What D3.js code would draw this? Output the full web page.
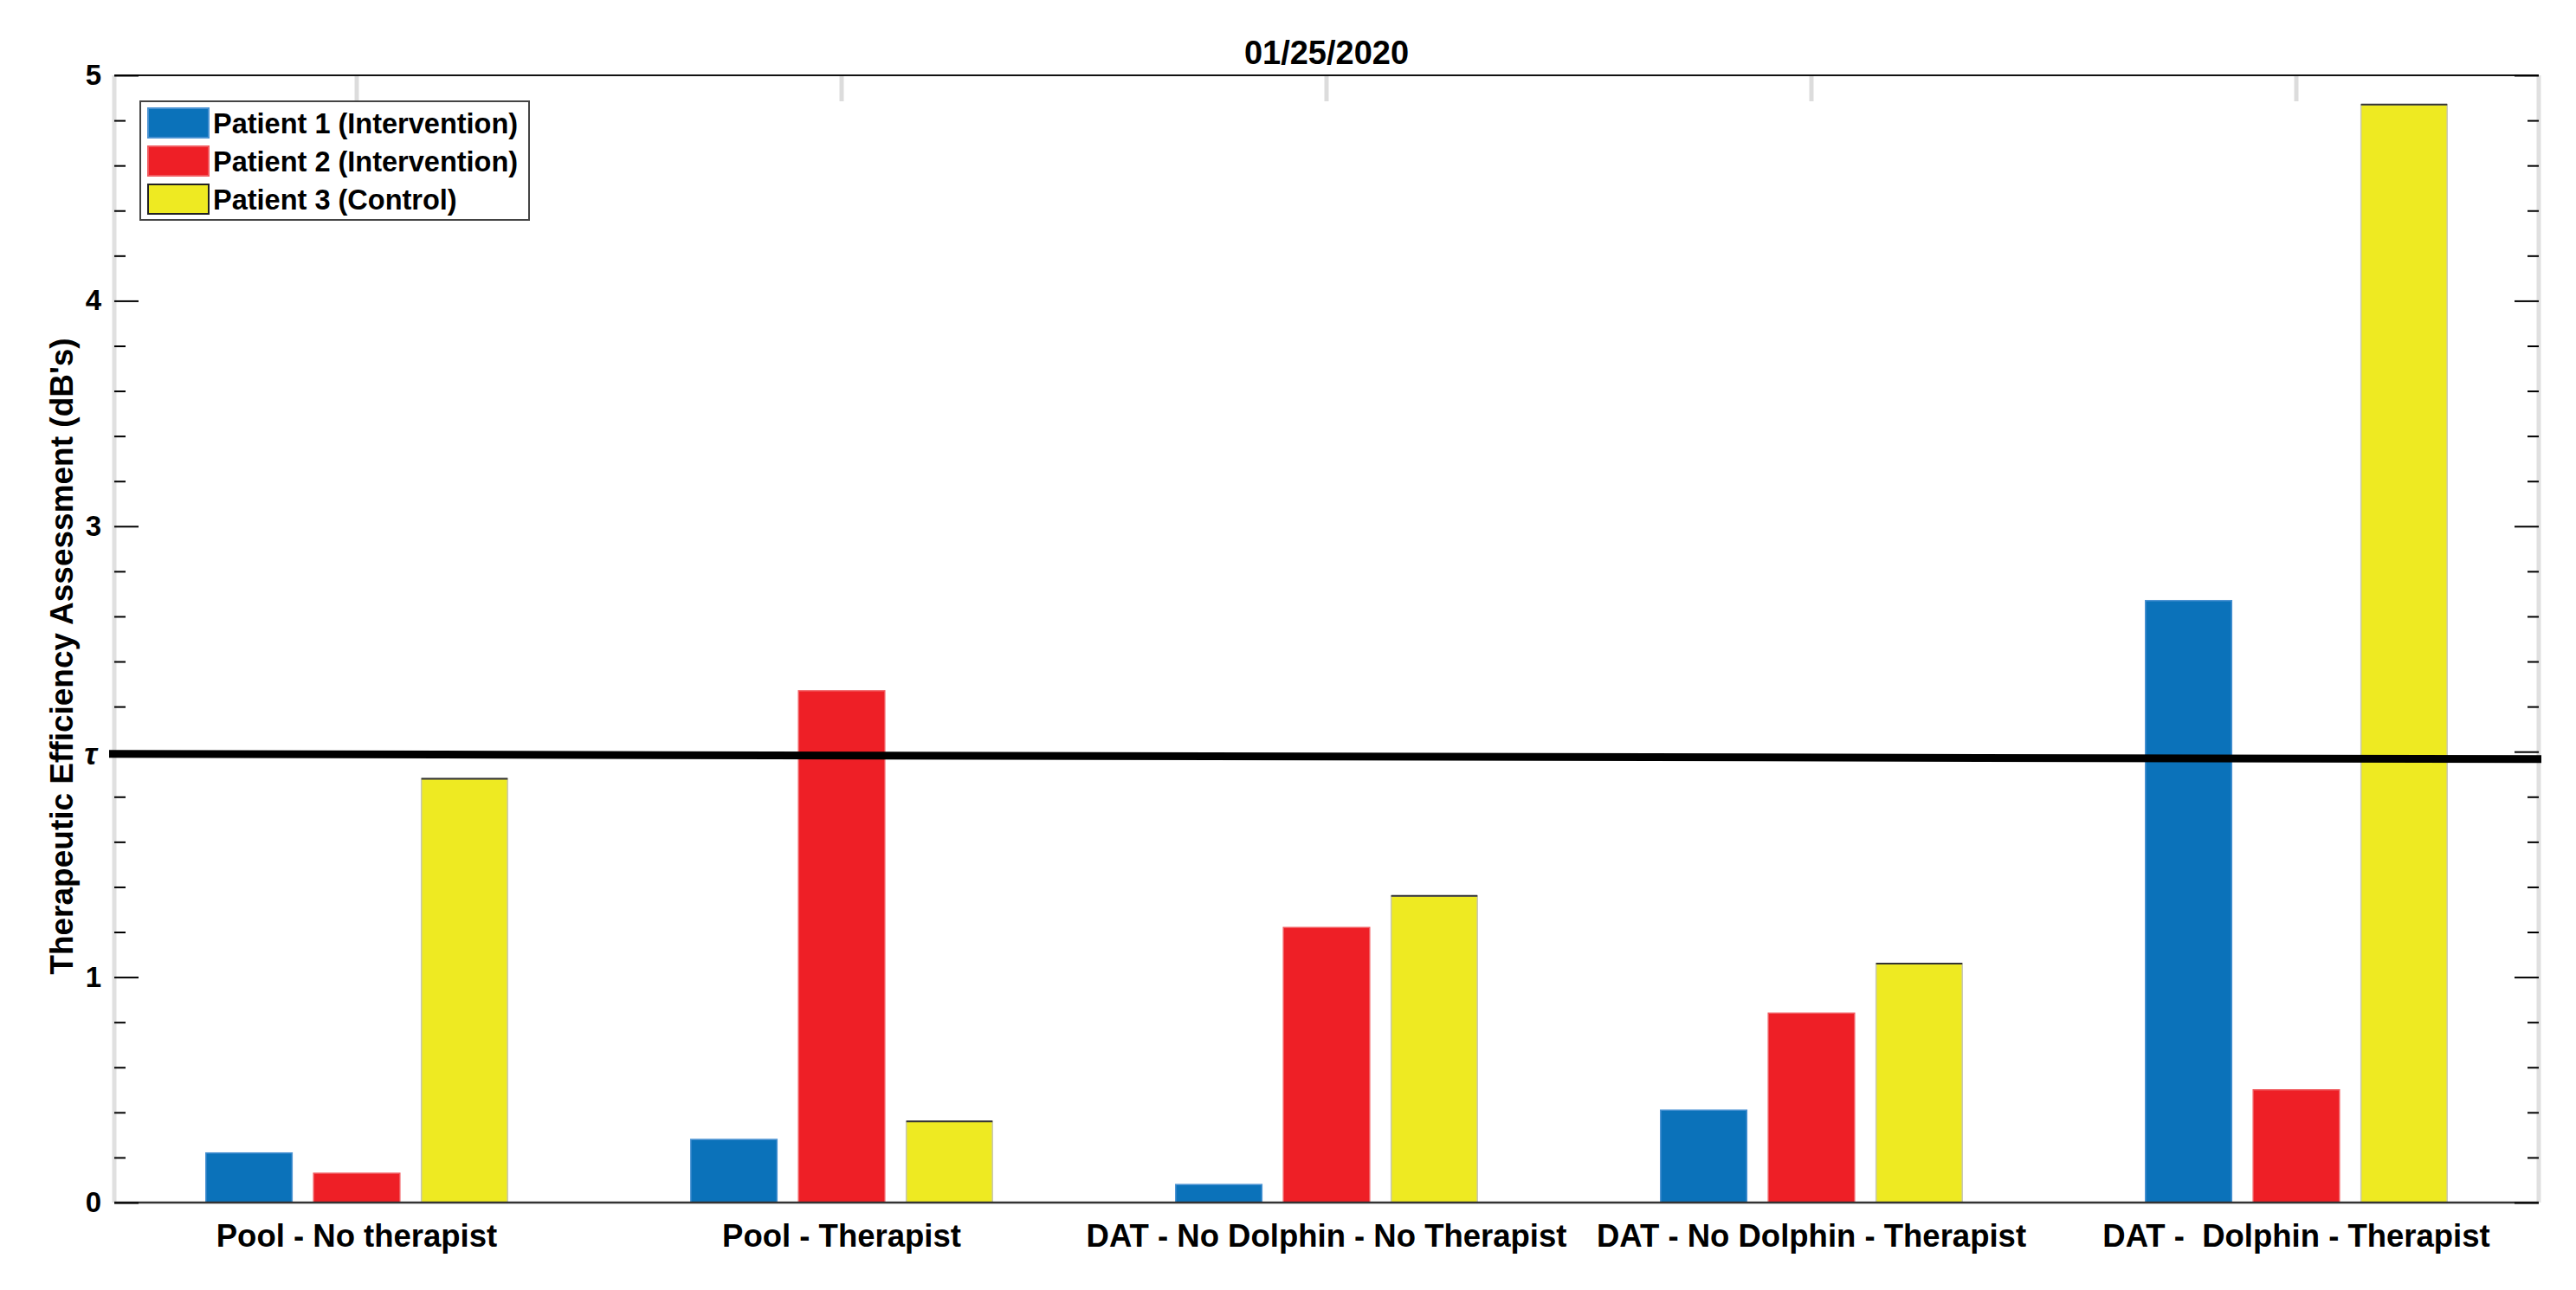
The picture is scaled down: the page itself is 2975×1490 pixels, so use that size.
<!DOCTYPE html>
<meta charset="utf-8">
<style>
    body { margin: 0; background: #fff; }
    text { font-family: "Liberation Sans", Arial, sans-serif; font-weight: bold; fill: #000; }
</style>
<script src="https://d3js.org/d3.v7.min.js"></script>
<div id="chart"></div>
<script>
    // data
    var conditions = ["Pool - No therapist", "Pool - Therapist", "DAT - No Dolphin - No Therapist",
        "DAT - No Dolphin - Therapist", "DAT -  Dolphin - Therapist"]
    var patients = ["Patient 1 (Intervention)", "Patient 2 (Intervention)", "Patient 3 (Control)"]
    var patient1 = [0.22, 0.28, 0.08, 0.41, 2.67]
    var patient2 = [0.13, 2.27, 1.22, 0.84, 0.50]
    var patient3 = [1.88, 0.36, 1.36, 1.06, 4.87]
    var colors = ["#0b72ba", "#ee1f26", "#eeea22"]
    var edgeColors = ["#4a92d2", "#f15a5f", "#c8c8b4"]
    var yTicks = [0, 1, 2, 3, 4, 5]
    var yTickLabels = ["0", "1", "\u03c4", "3", "4", "5"]
    var tauStart = 1.99, tauEnd = 1.967   // threshold line, drawn slightly tilted
    var title = "01/25/2020"
    var yTitle = "Therapeutic Efficiency Assessment (dB's)"

    var series = [patient1, patient2, patient3]

    var margin = { top: 87, right: 43, bottom: 101, left: 132 },
        width = 2975 - margin.left - margin.right,
        height = 1490 - margin.top - margin.bottom;

    var svg = d3.select("#chart")
        .append("svg")
        .attr("width", 2975)
        .attr("height", 1490)
        .append("g")
        .attr("transform", "translate(" + margin.left + "," + margin.top + ")");

    var y = d3.scaleLinear().domain([0, 5]).range([height, 0]);

    var x0 = d3.scaleBand().domain(conditions).range([0, width]).padding(0)
    var x1 = d3.scaleBand().domain([0, 1, 2])
        .range([x0.bandwidth() / 6, x0.bandwidth() * 5 / 6])
        .paddingInner(0.2).paddingOuter(0.1)

    var minor = d3.range(0, 5.01, 0.2).filter(function (d) { return Math.abs(d - Math.round(d)) > 0.01 })

    // x ticks (light grey) top and bottom
    var xTop = svg.append("g").call(d3.axisTop(x0).tickSize(-30).tickFormat(""))
    var xBot = svg.append("g").attr("transform", "translate(0," + height + ")")
        .call(d3.axisBottom(x0).tickSize(-30).tickPadding(25))
    ;[xTop, xBot].forEach(function (g) {
        g.select(".domain").remove()
        g.selectAll(".tick line").attr("stroke", "#dcdcdc").attr("stroke-width", 5)
    })
    xBot.selectAll(".tick text")
        .attr("font-size", "36.5px")
        .attr("font-family", "Liberation Sans, Arial, sans-serif")
        .attr("font-weight", "bold")
        .style("white-space", "pre")

    // box: grey side lines, dark top/bottom
    svg.append("line").attr("x1", 0).attr("x2", 0).attr("y1", 0).attr("y2", height)
        .attr("stroke", "#e0e0e0").attr("stroke-width", 5)
    svg.append("line").attr("x1", width).attr("x2", width).attr("y1", 0).attr("y2", height)
        .attr("stroke", "#e0e0e0").attr("stroke-width", 5)

    // bars
    var groups = svg.selectAll("g.grp")
        .data(conditions)
        .enter()
        .append("g")
        .attr("class", "grp")
        .attr("transform", function (d) { return "translate(" + x0(d) + ",0)" })

    groups.selectAll("rect")
        .data(function (d, i) { return series.map(function (s, k) { return { k: k, v: s[i] } }) })
        .enter()
        .append("rect")
        .attr("x", function (d) { return x1(d.k) })
        .attr("width", x1.bandwidth())
        .attr("y", function (d) { return y(d.v) })
        .attr("height", function (d) { return y(0) - y(d.v) })
        .style("fill", function (d) { return colors[d.k] })
        .attr("stroke", function (d) { return edgeColors[d.k] })
        .attr("stroke-width", 1.5)

    // dark top edge on the yellow bars
    groups.selectAll("line.edge")
        .data(function (d, i) { return [patient3[i]] })
        .enter()
        .append("line")
        .attr("x1", x1(2))
        .attr("x2", x1(2) + x1.bandwidth())
        .attr("y1", function (d) { return y(d) })
        .attr("y2", function (d) { return y(d) })
        .attr("stroke", "#333")
        .attr("stroke-width", 2)

    svg.append("line").attr("x1", 0).attr("x2", width).attr("y1", 0).attr("y2", 0)
        .attr("stroke", "#111").attr("stroke-width", 2)
    svg.append("line").attr("x1", 0).attr("x2", width).attr("y1", height).attr("y2", height)
        .attr("stroke", "#333").attr("stroke-width", 2.5)

    // y axes, ticks pointing inward
    function yAxis(g, axisFn, size, values, labels) {
        g.call(axisFn(y).tickValues(values).tickSize(-size).tickPadding(15)
            .tickFormat(labels ? function (d, i) { return labels[i] } : ""))
        g.select(".domain").remove()
        g.selectAll(".tick line").attr("stroke", "#000").attr("stroke-width", 2)
    }
    yAxis(svg.append("g"), d3.axisLeft, 13, minor)
    var yl = svg.append("g")
    yAxis(yl, d3.axisLeft, 28, yTicks, yTickLabels)
    yl.selectAll(".tick text")
        .attr("font-size", "33px")
        .attr("font-family", "Liberation Sans, Arial, sans-serif")
        .attr("font-weight", "bold")
    yl.selectAll(".tick text").filter(function (d) { return d === 2 })
        .attr("font-family", "Liberation Serif, serif")
        .attr("font-style", "italic")
        .attr("font-weight", "normal")
        .attr("font-size", "36px")
        .attr("dy", "0.4em")
        .attr("x", -20)
    var yr = svg.append("g").attr("transform", "translate(" + width + ",0)")
    yAxis(yr, d3.axisRight, 13, minor)
    yAxis(svg.append("g").attr("transform", "translate(" + width + ",0)"), d3.axisRight, 28, yTicks)

    // threshold line tau
    svg.append("line")
        .attr("x1", -6).attr("x2", width + 3)
        .attr("y1", y(tauStart)).attr("y2", y(tauEnd))
        .attr("stroke", "#000").attr("stroke-width", 9)

    // title
    svg.append("text")
        .attr("x", width / 2)
        .attr("y", -13)
        .attr("text-anchor", "middle")
        .attr("font-size", "38px")
        .text(title)

    // y title
    svg.append("text")
        .attr("transform", "translate(" + (-48) + "," + (height / 2 + 20) + ") rotate(-90)")
        .attr("text-anchor", "middle")
        .attr("font-size", "37px")
        .text(yTitle)

    // legend
    var legend = svg.append("g").attr("transform", "translate(30,30)")
    legend.append("rect")
        .attr("width", 449).attr("height", 137)
        .style("fill", "#fff").attr("stroke", "#444").attr("stroke-width", 2)
    var rows = legend.selectAll("g.row")
        .data(patients)
        .enter()
        .append("g")
        .attr("transform", function (d, i) { return "translate(9," + (8 + i * 44) + ")" })
    rows.append("rect")
        .attr("width", 70).attr("height", 34)
        .style("fill", function (d, i) { return colors[i] })
        .attr("stroke", function (d, i) { return i === 2 ? "#222" : edgeColors[i] })
        .attr("stroke-width", 2)
    rows.append("text")
        .attr("x", 75)
        .attr("y", 17)
        .attr("dy", "0.36em")
        .attr("font-size", "32.5px")
        .text(function (d) { return d })
</script>
